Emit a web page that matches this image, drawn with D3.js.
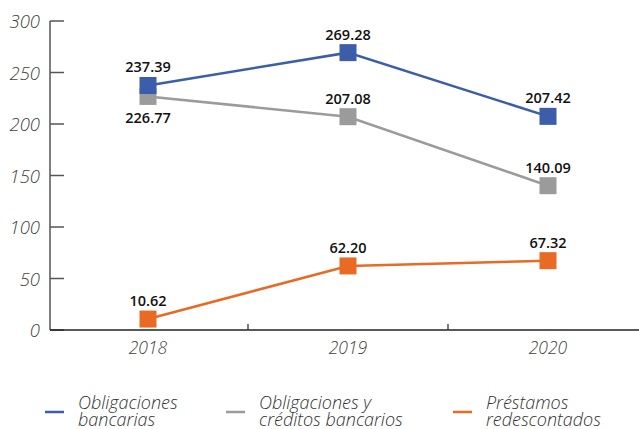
<!DOCTYPE html>
<html>
<head>
<meta charset="utf-8">
<script src="https://cdn.jsdelivr.net/npm/d3@7"></script>
<style>
  body { margin: 0; background: #fff; }
  svg { display: block; font-family: "Open Sans", sans-serif; }
</style>
</head>
<body>
<svg id="chart" width="639" height="429"></svg>
<script>
const years = ["2018", "2019", "2020"];
const obligaciones = [237.39, 269.28, 207.42];
const obligacionesCreditos = [226.77, 207.08, 140.09];
const prestamos = [10.62, 62.20, 67.32];
const yTicks = [0, 50, 100, 150, 200, 250, 300];

// label placement per point: "above" or "below"
const series = [
  { values: obligacionesCreditos, color: "#9b9b9b", pos: ["below", "above", "above"], key: "gris" },
  { values: obligaciones, color: "#3b5daa", pos: ["above", "above", "above"], key: "azul" },
  { values: prestamos, color: "#e86a25", pos: ["above", "above", "above"], key: "naranja" }
];
const legendItems = [
  { label: ["Obligaciones", "bancarias"], color: "#3b5daa", x: 45 },
  { label: ["Obligaciones y", "créditos bancarios"], color: "#9b9b9b", x: 226 },
  { label: ["Préstamos", "redescontados"], color: "#e86a25", x: 453 }
];

const svg = d3.select("#chart");
const x = d3.scaleBand().domain(years).range([48, 648]);
const y = d3.scaleLinear().domain([0, 300]).range([330, 21]);

// y axis
svg.append("line")
  .attr("x1", 50).attr("x2", 50).attr("y1", 21).attr("y2", 330)
  .attr("stroke", "#555").attr("stroke-width", 1.5);
svg.selectAll(".ytick").data(yTicks).enter().append("line")
  .attr("x1", 50).attr("x2", 64)
  .attr("y1", d => y(d)).attr("y2", d => y(d))
  .attr("stroke", "#555").attr("stroke-width", 1.5);
svg.selectAll(".ylab").data(yTicks).enter().append("text")
  .attr("x", 40).attr("y", d => y(d) + 7)
  .attr("text-anchor", "end")
  .style("font-size", "18.5px").style("font-style", "italic").style("font-weight", 300)
  .attr("fill", "#444")
  .text(d => d);

// x axis
svg.append("line")
  .attr("x1", 50).attr("x2", 639).attr("y1", 330).attr("y2", 330)
  .attr("stroke", "#222").attr("stroke-width", 1.5);
svg.selectAll(".xtick").data(years.slice(1)).enter().append("line")
  .attr("x1", d => x(d)).attr("x2", d => x(d))
  .attr("y1", 324).attr("y2", 330)
  .attr("stroke", "#222").attr("stroke-width", 1.2);
svg.selectAll(".xlab").data(years).enter().append("text")
  .attr("x", d => x(d) + x.bandwidth() / 2).attr("y", 354)
  .attr("text-anchor", "middle")
  .style("font-size", "17.5px").style("font-style", "italic").style("font-weight", 300)
  .attr("fill", "#444")
  .text(d => d);

const cx = i => x(years[i]) + x.bandwidth() / 2;
const line = d3.line().x((d, i) => cx(i)).y(d => y(d));

series.forEach(s => {
  svg.append("path")
    .attr("d", line(s.values))
    .attr("fill", "none")
    .attr("stroke", s.color)
    .attr("stroke-width", 2.5);
});
series.forEach(s => {
  svg.selectAll(".m-" + s.key).data(s.values).enter().append("rect")
    .attr("x", (d, i) => cx(i) - 8.5).attr("y", d => y(d) - 8.5)
    .attr("width", 17).attr("height", 17)
    .attr("fill", s.color);
  svg.selectAll(".l-" + s.key).data(s.values).enter().append("text")
    .attr("x", (d, i) => cx(i))
    .attr("y", (d, i) => s.pos[i] === "above" ? y(d) - 13 : y(d) + 27)
    .attr("text-anchor", "middle")
    .style("font-size", "14.5px").style("font-weight", 600)
    .attr("fill", "#111")
    .text(d => d.toFixed(2));
});

// legend
const legend = svg.selectAll(".legend").data(legendItems).enter().append("g")
  .attr("transform", d => `translate(${d.x},0)`);
legend.append("line")
  .attr("x1", 0).attr("x2", 19).attr("y1", 412).attr("y2", 412)
  .attr("stroke", d => d.color).attr("stroke-width", 2.5);
legend.each(function(d) {
  const t = d3.select(this).append("text")
    .attr("x", 33).attr("y", 409)
    .style("font-size", "18px").style("font-style", "italic").style("font-weight", 300)
    .attr("fill", "#333");
  d.label.forEach((ln, j) => {
    t.append("tspan").attr("x", 33).attr("dy", j === 0 ? 0 : 17).text(ln);
  });
});
</script>
</body>
</html>
